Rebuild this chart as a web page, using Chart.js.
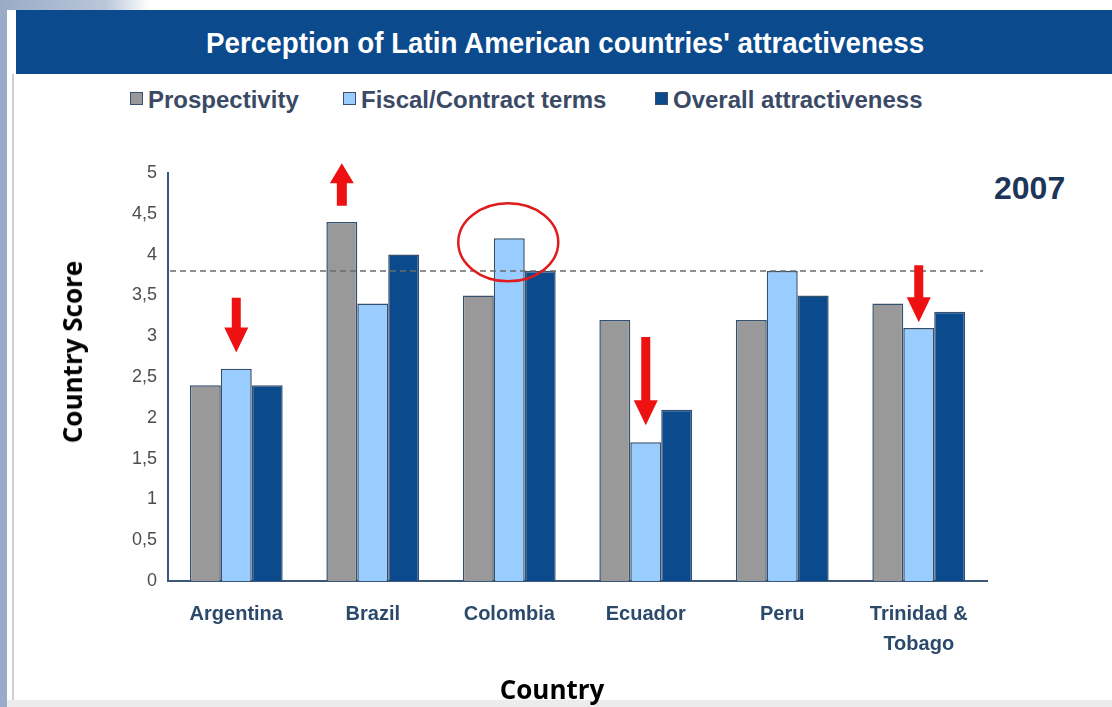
<!DOCTYPE html>
<html>
<head>
<meta charset="utf-8">
<script src="https://cdn.jsdelivr.net/npm/chart.js@4.4.1/dist/chart.umd.min.js"></script>
<style>
  html, body { margin: 0; padding: 0; }
  body { width: 1112px; height: 707px; position: relative; overflow: hidden; background: #fff;
         font-family: "Liberation Sans", Arial, sans-serif; }
  #strip { position: absolute; left: 0; top: 0; width: 7px; height: 707px; background: #9aabc7; }
  #topglow { position: absolute; left: 0; top: 0; width: 150px; height: 10px;
             background: linear-gradient(to right, #9aabc7, #b9c6da 70%, #fff); }
  #rule { position: absolute; left: 12px; top: 74px; width: 2px; height: 626px; background: #cfcfcf; }
  #bottomband { position: absolute; left: 7px; top: 700px; width: 1105px; height: 7px; background: #ececec; }
  #banner { position: absolute; left: 16px; top: 10px; width: 1096px; height: 64px; background: #0b4a8c;
            color: #fff; font-weight: bold; font-size: 30px; text-align: center; line-height: 66px; }
  #banner span { display: inline-block; transform: scaleX(0.925); margin-left: 2px; }
  .lg { position: absolute; top: 86px; font-size: 24px; font-weight: bold; color: #3a4a66; white-space: nowrap; }
  .lg i { display: inline-block; width: 11px; height: 11px; border: 1.5px solid #3b4f6e; margin-right: 5px;
          vertical-align: 3px; }
  #year { position: absolute; left: 994px; top: 170px; font-size: 32px; font-weight: bold; color: #1c3558; }
  .axt { position: absolute; font-family: "Open Sans", sans-serif; font-size: 26px; font-weight: bold; color: #000;
         white-space: nowrap; transform: translate(-50%, -50%); }
  #ytitle { left: 72px; top: 352px; transform: translate(-50%, -50%) rotate(-90deg); }
  #xtitle { left: 552px; top: 689px; }
  #wrap { position: absolute; left: 0; top: 140px; width: 1112px; height: 567px; }
</style>
</head>
<body>
<div id="strip"></div>
<div id="topglow"></div>
<div id="rule"></div>
<div id="bottomband"></div>
<div id="banner"><span>Perception of Latin American countries' attractiveness</span></div>
<div id="legend"></div>
<div id="year">2007</div>
<div id="wrap"><canvas id="myChart"></canvas></div>
<div class="axt" id="ytitle">Country Score</div>
<div class="axt" id="xtitle">Country</div>
<script>
var countries = ["Argentina", "Brazil", "Colombia", "Ecuador", "Peru", ["Trinidad &", "Tobago"]];
var seriesNames = ["Prospectivity", "Fiscal/Contract terms", "Overall attractiveness"];
var prospectivity = [2.4, 4.4, 3.5, 3.2, 3.2, 3.4];
var fiscalTerms = [2.6, 3.4, 4.2, 1.7, 3.8, 3.1];
var overall = [2.4, 4.0, 3.8, 2.1, 3.5, 3.3];
var benchmark = 3.8;
var yMin = 0, yMax = 5, yStep = 0.5;

// red arrows: category index, dataset index, start value, tip value
var arrowCats = [0, 1, 3, 5];
var arrowSeries = [1, 0, 1, 1];
var arrowFrom = [3.47, 4.6, 2.99, 3.87];
var arrowTo = [2.8, 5.12, 1.91, 3.17];
// red ellipse around a bar: category, dataset, centre value
var ringCat = 2, ringSeries = 1, ringValue = 4.15;

var fills = ["#999999", "#99ccff", "#0b4a8c"];
var edge = "#34506f";

// html legend
var lgLeft = [130, 343, 655];
var legendHtml = "";
for (var i = 0; i < seriesNames.length; i++) {
  legendHtml += '<div class="lg" style="left:' + lgLeft[i] + 'px"><i style="background:' + fills[i] + '"></i>' + seriesNames[i] + '</div>';
}
document.getElementById("legend").innerHTML = legendHtml;

var annotate = {
  id: "annotate",
  afterDatasetsDraw: function(chart) {
    var ctx = chart.ctx, y = chart.scales.y, area = chart.chartArea;
    ctx.save();
    // dashed benchmark line
    ctx.strokeStyle = "#6b6b6b";
    ctx.lineWidth = 1.5;
    ctx.setLineDash([6, 4]);
    ctx.beginPath();
    ctx.moveTo(area.left + 2, y.getPixelForValue(benchmark));
    ctx.lineTo(area.right - 4, y.getPixelForValue(benchmark));
    ctx.stroke();
    ctx.setLineDash([]);

    // arrows
    ctx.fillStyle = "#ee1111";
    for (var k = 0; k < arrowCats.length; k++) {
      var bar = chart.getDatasetMeta(arrowSeries[k]).data[arrowCats[k]];
      var x = bar.x;
      var y0 = y.getPixelForValue(arrowFrom[k]);
      var y1 = y.getPixelForValue(arrowTo[k]);
      var dir = y1 > y0 ? 1 : -1;
      var head = dir < 0 ? 20 : 25, half = 12, shaft = dir < 0 ? 5 : 4.5;
      var yb = y1 - dir * head;
      ctx.beginPath();
      ctx.moveTo(x - shaft, y0);
      ctx.lineTo(x + shaft, y0);
      ctx.lineTo(x + shaft, yb);
      ctx.lineTo(x + half, yb);
      ctx.lineTo(x, y1);
      ctx.lineTo(x - half, yb);
      ctx.lineTo(x - shaft, yb);
      ctx.closePath();
      ctx.fill();
    }

    // ellipse
    var rb = chart.getDatasetMeta(ringSeries).data[ringCat];
    ctx.strokeStyle = "#e01b1b";
    ctx.lineWidth = 2.5;
    ctx.beginPath();
    ctx.ellipse(rb.x - 1, y.getPixelForValue(ringValue), 50, 39, 0, 0, Math.PI * 2);
    ctx.stroke();
    ctx.restore();
  }
};

var data = {
  labels: countries,
  datasets: [
    { label: seriesNames[0], data: prospectivity, backgroundColor: fills[0], borderColor: edge, borderWidth: 1.5 },
    { label: seriesNames[1], data: fiscalTerms, backgroundColor: fills[1], borderColor: edge, borderWidth: 1.5 },
    { label: seriesNames[2], data: overall, backgroundColor: fills[2], borderColor: edge, borderWidth: 1.5 }
  ]
};

var ctx = document.getElementById("myChart").getContext("2d");
var myChart = new Chart(ctx, {
  type: "bar",
  data: data,
  options: {
    responsive: true,
    maintainAspectRatio: false,
    animation: false,
    categoryPercentage: 0.68,
    barPercentage: 1.0,
    layout: { padding: { top: 33, right: 125, left: 121, bottom: 30 } },
    plugins: { legend: { display: false }, tooltip: { enabled: false } },
    scales: {
      x: {
        grid: { display: false, drawTicks: false },
        border: { display: true, color: "#3d5878", width: 2 },
        ticks: { color: "#2b4a6b", font: { family: "Liberation Sans", size: 20, weight: "bold", lineHeight: 1.5 }, padding: 18, maxRotation: 0 }
      },
      y: {
        min: yMin, max: yMax,
        grid: { display: false, drawTicks: false },
        border: { display: true, color: "#3d5878", width: 2 },
        ticks: { stepSize: yStep, color: "#4d4d4d", padding: 11,
                 font: { family: "Liberation Sans", size: 18 },
                 callback: function(v) { return String(v).replace(".", ","); } }
      }
    }
  },
  plugins: [annotate]
});
</script>
</body>
</html>
